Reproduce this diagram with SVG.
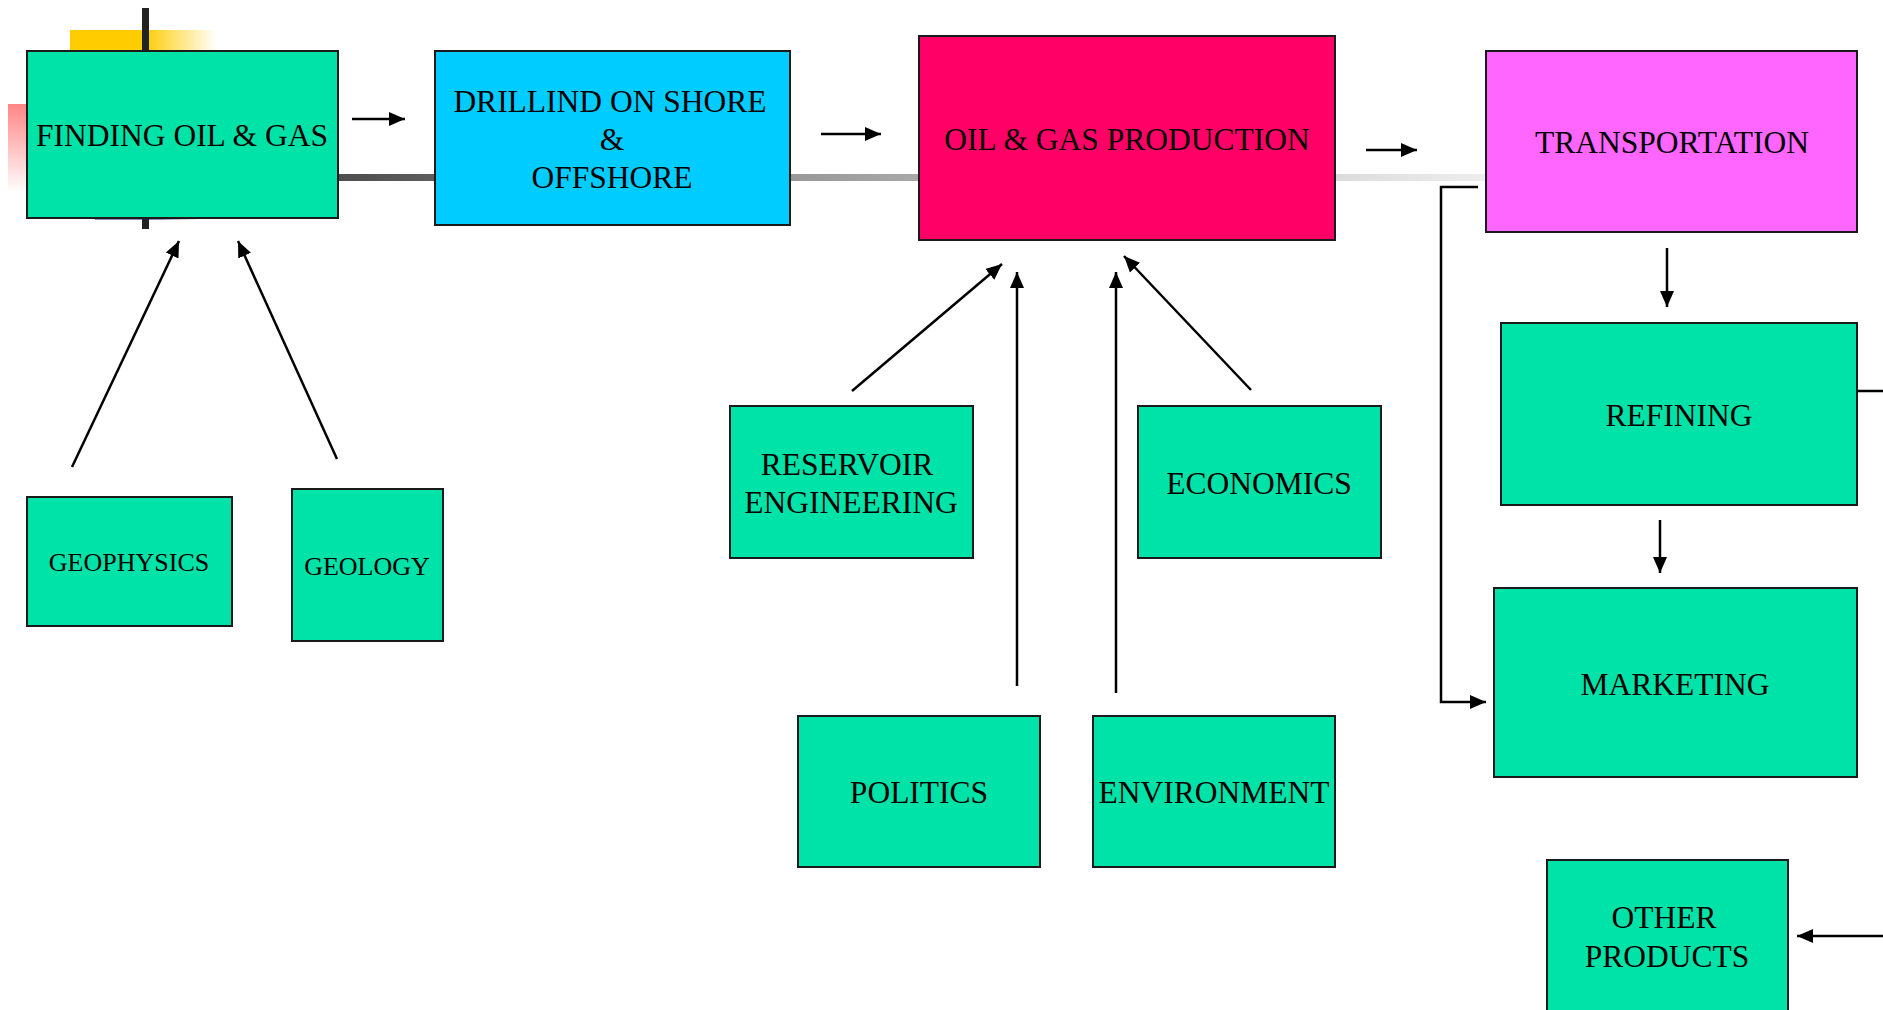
<svg xmlns="http://www.w3.org/2000/svg" width="1883" height="1010" viewBox="0 0 1883 1010">
  <style>
    .box { stroke: #1a1a1a; stroke-width: 2; }
    .green { fill: #00E3A8; }
    .lbl { font-family: "Liberation Serif", "Times New Roman", serif; font-size: 31.5px; fill: #000; text-anchor: middle; }
    .sm { font-size: 26px; }
    .conn { stroke: #000; stroke-width: 2.5; fill: none; }
    .arr { marker-end: url(#head); }
  </style>
  <defs>
    <marker id="head" markerUnits="userSpaceOnUse" markerWidth="16" markerHeight="16" viewBox="0 0 16 16" refX="16" refY="8" orient="auto">
      <path d="M0,1 L16,8 L0,15 z" fill="#000"/>
    </marker>
    <linearGradient id="yellowFade" x1="0" y1="0" x2="1" y2="0">
      <stop offset="0" stop-color="#FFCC00"/>
      <stop offset="0.5" stop-color="#FFCC00"/>
      <stop offset="1" stop-color="#FFCC00" stop-opacity="0"/>
    </linearGradient>
    <linearGradient id="redFade" x1="0" y1="0" x2="0" y2="1">
      <stop offset="0" stop-color="#FF7070" stop-opacity="0.85"/>
      <stop offset="1" stop-color="#FF7070" stop-opacity="0"/>
    </linearGradient>
    <linearGradient id="navyFade" x1="0" y1="0" x2="1" y2="0">
      <stop offset="0" stop-color="#1a1a70"/>
      <stop offset="0.6" stop-color="#1a1a70"/>
      <stop offset="1" stop-color="#1a1a70" stop-opacity="0"/>
    </linearGradient>
    <linearGradient id="barFade" gradientUnits="userSpaceOnUse" x1="338" y1="0" x2="1486" y2="0">
      <stop offset="0" stop-color="#4e4e4e"/>
      <stop offset="0.4" stop-color="#999999"/>
      <stop offset="1" stop-color="#eeeeee"/>
    </linearGradient>
  </defs>

  <!-- decorative background accents -->
  <g id="accents">
    <rect x="70" y="30" width="147" height="21" fill="url(#yellowFade)"/>
    <rect x="8" y="104" width="19" height="89" fill="url(#redFade)"/>
    <rect x="142" y="8" width="7" height="221" fill="#222"/>
    <rect x="95" y="217" width="105" height="2.5" fill="url(#navyFade)"/>
    <rect x="338" y="174" width="1148" height="7" fill="url(#barFade)"/>
  </g>

  <g id="connectors">
    <line class="conn arr" x1="352" y1="119" x2="405" y2="119"/>
    <line class="conn arr" x1="821" y1="134" x2="881" y2="134"/>
    <line class="conn arr" x1="1366" y1="150" x2="1417" y2="150"/>
    <line class="conn arr" x1="1667" y1="248" x2="1667" y2="307"/>
    <line class="conn arr" x1="1660" y1="520" x2="1660" y2="573"/>
    <polyline class="conn arr" points="1478,187 1441,187 1441,702 1486,702"/>
    <line class="conn" x1="1857" y1="391" x2="1883" y2="391"/>
    <line class="conn arr" x1="1883" y1="936" x2="1797" y2="936"/>
    <line class="conn arr" x1="72" y1="467" x2="179" y2="241"/>
    <line class="conn arr" x1="337" y1="459" x2="238" y2="241"/>
    <line class="conn arr" x1="852" y1="391" x2="1002" y2="264"/>
    <line class="conn arr" x1="1017" y1="686" x2="1017" y2="272"/>
    <line class="conn arr" x1="1116" y1="693" x2="1116" y2="272"/>
    <line class="conn arr" x1="1251" y1="390" x2="1124" y2="256"/>
  </g>

  <g id="finding">
    <rect class="box green" x="27" y="51" width="311" height="167"/>
    <text class="lbl" x="182" y="146">FINDING OIL &amp; GAS</text>
  </g>
  <g id="drilling">
    <rect class="box" fill="#00CCFF" x="435" y="51" width="355" height="174"/>
    <text class="lbl" x="610" y="112">DRILLIND ON SHORE</text>
    <text class="lbl" x="612" y="150">&amp;</text>
    <text class="lbl" x="612" y="188">OFFSHORE</text>
  </g>
  <g id="production">
    <rect class="box" fill="#FF0066" x="919" y="36" width="416" height="204"/>
    <text class="lbl" x="1127" y="150">OIL &amp; GAS PRODUCTION</text>
  </g>
  <g id="transportation">
    <rect class="box" fill="#FF66FF" x="1486" y="51" width="371" height="181"/>
    <text class="lbl" x="1672" y="153">TRANSPORTATION</text>
  </g>
  <g id="refining">
    <rect class="box green" x="1501" y="323" width="356" height="182"/>
    <text class="lbl" x="1679" y="426">REFINING</text>
  </g>
  <g id="marketing">
    <rect class="box green" x="1494" y="588" width="363" height="189"/>
    <text class="lbl" x="1675" y="695">MARKETING</text>
  </g>
  <g id="other-products">
    <rect class="box green" x="1547" y="860" width="241" height="160"/>
    <text class="lbl" x="1664" y="928">OTHER</text>
    <text class="lbl" x="1667" y="967">PRODUCTS</text>
  </g>
  <g id="geophysics">
    <rect class="box green" x="27" y="497" width="205" height="129"/>
    <text class="lbl sm" x="129" y="571">GEOPHYSICS</text>
  </g>
  <g id="geology">
    <rect class="box green" x="292" y="489" width="151" height="152"/>
    <text class="lbl sm" x="367" y="575">GEOLOGY</text>
  </g>
  <g id="reservoir-engineering">
    <rect class="box green" x="730" y="406" width="243" height="152"/>
    <text class="lbl" x="847" y="475">RESERVOIR</text>
    <text class="lbl" x="851" y="513">ENGINEERING</text>
  </g>
  <g id="economics">
    <rect class="box green" x="1138" y="406" width="243" height="152"/>
    <text class="lbl" x="1259" y="494">ECONOMICS</text>
  </g>
  <g id="politics">
    <rect class="box green" x="798" y="716" width="242" height="151"/>
    <text class="lbl" x="919" y="803">POLITICS</text>
  </g>
  <g id="environment">
    <rect class="box green" x="1093" y="716" width="242" height="151"/>
    <text class="lbl" x="1214" y="803">ENVIRONMENT</text>
  </g>
</svg>
